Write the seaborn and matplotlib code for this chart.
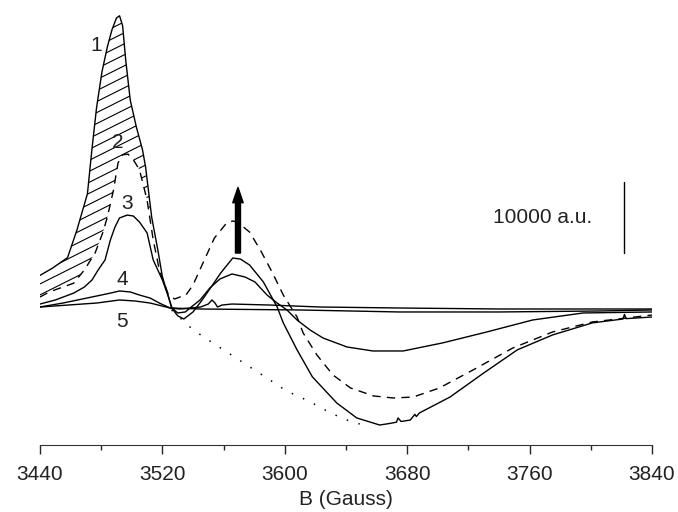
import matplotlib
matplotlib.use("Agg")
import seaborn as sns
from matplotlib import pyplot as plt
import numpy as np

# magnetic field (Gauss) and signal (a.u.)
b1 = [3440, 3448, 3458, 3464, 3471, 3474, 3477, 3480.5, 3484, 3487, 3490, 3492, 3494, 3496, 3499, 3503,
      3507, 3509, 3513, 3517, 3520, 3524, 3526, 3530, 3534, 3540, 3546, 3552, 3558, 3566, 3571, 3577,
      3586, 3595, 3599, 3608, 3618, 3634, 3647, 3662, 3668, 3673, 3674, 3676, 3682, 3685,
      3686, 3688, 3708, 3730, 3752, 3775, 3801, 3821, 3822, 3823, 3840]
i1 = [4600, 5600, 7100, 10900, 16100, 22500, 28300, 33300, 36800, 39200, 40900, 41200, 39800, 35000, 29300, 25500,
      22300, 19900, 12800, 8200, 4400, 1550, 0, -1100, -1550, -560, 1130, 3000, 4900, 7050, 6900, 6060,
      3670, 140, -2100, -5900, -9700, -13400, -15500, -16500, -16300, -16100, -15500, -16000, -15800, -15000,
      -15300, -14800, -12550, -9165, -5900, -3800, -2100, -1550, -900, -1500, -1270]

b2 = [3440, 3446, 3462, 3469, 3476, 3481, 3484, 3488, 3491, 3494, 3497.5, 3501, 3505, 3510,
      3514, 3518, 3524, 3528, 3531.5, 3535, 3540, 3548, 3554, 3562, 3566, 3569, 3577, 3584,
      3592, 3599, 3608, 3612, 3621, 3631.5, 3643, 3658, 3671, 3684, 3701, 3723, 3749, 3775,
      3801, 3840]
i2 = [1550, 2260, 3500, 5360, 7750, 10600, 12800, 16600, 20450, 21600, 21700, 20900, 19500, 15200,
      9600, 5360, 1830, 1270, 1550, 1700, 3240, 7050, 9870, 11990, 12270, 12130, 10700, 8180,
      4940, 1830, -1270, -3525, -6630, -9450, -11280, -12400, -12690, -12550, -11280, -8740, -5640, -3380,
      -1970, -990]

b3 = [3440, 3450, 3462, 3469, 3474, 3478, 3482.5, 3486, 3489, 3492, 3497, 3501, 3505, 3510,
      3514, 3520, 3524, 3526.3, 3530, 3535, 3538, 3544.6, 3551, 3557.6, 3565.5, 3574, 3580.5, 3588.4,
      3595, 3601.4, 3608, 3616.5, 3625, 3640.7, 3657.6, 3677.3, 3703, 3732, 3762, 3795, 3840]
i3 = [560, 1130, 2100, 2960, 3950, 5360, 6770, 9590, 11420, 12700, 13100, 12970, 12130, 10580,
      6770, 3950, 1550, 0, -700, -560, 0, 1130, 2820, 4090, 4800, 4370, 3670, 1830,
      700, -280, -1690, -3100, -4230, -5500, -6060, -6060, -4930, -3380, -1690, -700, -560]

b4 = [3440, 3455, 3477, 3486, 3492, 3499, 3505, 3512, 3518, 3525, 3531.5, 3545, 3550, 3552.4,
      3554.4, 3556, 3559, 3565.5, 3590, 3623, 3675, 3740, 3840]
i4 = [140, 700, 1690, 2100, 2400, 2260, 1830, 1400, 700, 0, -140, 140, 560, 1130,
      700, 140, 420, 560, 420, 140, 0, -140, -140]

b5 = [3440, 3477, 3492, 3502, 3512, 3525, 3545, 3610, 3675, 3740, 3806, 3840]
i5 = [140, 700, 1130, 990, 700, 0, -140, -280, -560, -560, -420, -280]

# dotted guide under the main curve
b_dot = [3526, 3538, 3546, 3593.5, 3601, 3610, 3618, 3625, 3633, 3640.7, 3649]
i_dot = [-280, -2680, -3950, -10600, -11700, -12550, -13400, -14240, -15090, -15800, -16360]

curve_labels = ["1", "2", "3", "4", "5"]
label_b = [3476.6, 3491, 3497, 3493.6, 3493.6]
label_i = [37080, 23265, 14800, 3950, -1970]

sns.set_style("ticks")
plt.rcParams['font.family'] = ['Liberation Sans', 'DejaVu Sans']
fs = 15
txt_color = '#222222'

fig = plt.figure(figsize=(6.78, 5.12), dpi=100)
ax = fig.add_axes([40 / 678, 67 / 512, 612 / 678, 435 / 512])

lw = 1.0
sns.lineplot(x=b1, y=i1, ax=ax, color='k', lw=lw, sort=False)
sns.lineplot(x=b2, y=i2, ax=ax, color='k', lw=lw, sort=False, linestyle=(0, (6, 4.5)))
sns.lineplot(x=b3, y=i3, ax=ax, color='k', lw=lw, sort=False)
sns.lineplot(x=b4, y=i4, ax=ax, color='k', lw=lw, sort=False)
sns.lineplot(x=b5, y=i5, ax=ax, color='k', lw=lw, sort=False)
sns.lineplot(x=b_dot, y=i_dot, ax=ax, color='k', lw=1.1, sort=False, linestyle=(0, (1, 7)))

# hatched area between curve 1 and curve 2 (slanted lines clipped to the region)
hb = [b for b in b1 if b <= 3513]
hi = i1[:len(hb)]
hb2 = [b for b in b2 if b <= 3513]
hi2 = i2[:len(hb2)]
region = ax.fill(hb + hb2[::-1], hi + hi2[::-1], facecolor='none', edgecolor='none', lw=0)[0]
hx = np.array([3435, 3520])
for c in np.arange(-9000, 42000, 1550):
    ln, = ax.plot(hx, c + 108 * (hx - 3440), color='k', lw=0.8)
    ln.set_clip_path(region)

for lab, xb, yi in zip(curve_labels, label_b, label_i):
    ax.text(xb, yi, lab, fontsize=fs, ha='center', va='center', color=txt_color)

# arrow
ax.annotate('', xy=(3569.4, 17000), xytext=(3569.4, 7750),
            arrowprops=dict(arrowstyle='simple,head_length=1.1,head_width=0.75,tail_width=0.36',
                            mutation_scale=10, color='k', shrinkA=0, shrinkB=0))

# scale bar
ax.plot([3821.7, 3821.7], [7755, 17770], color='k', lw=1.0)
ax.text(3736, 12830, "10000 a.u.", fontsize=fs, ha='left', va='center', color=txt_color)

ax.set_xlim(3440, 3840)
ax.set_ylim(-19317, 42018)
ax.set_xticks(np.arange(3440, 3841, 80))
ax.set_xticks(np.arange(3480, 3841, 80), minor=True)
ax.tick_params(axis='x', which='major', length=6.5, width=1, direction='out', labelsize=fs,
               pad=8, labelcolor=txt_color)
ax.tick_params(axis='x', which='minor', length=3.6, width=1, direction='out')
ax.set_yticks([])
ax.set_xlabel("B (Gauss)", fontsize=fs, labelpad=4, color=txt_color)
ax.set_ylabel("")
sns.despine(ax=ax, left=True)
ax.spines['bottom'].set_color('#333333')

fig.savefig("out.png", dpi=100)
